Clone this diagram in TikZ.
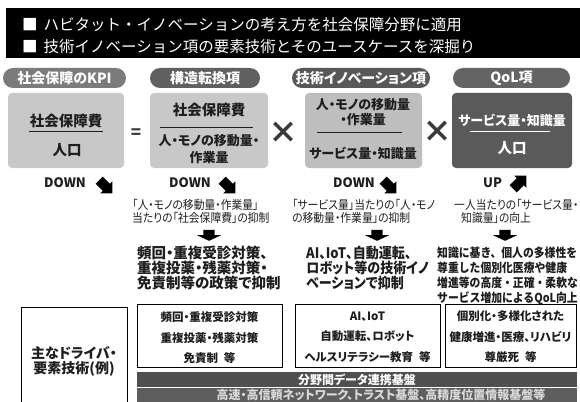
\documentclass[tikz,border=0pt]{standalone}
\usepackage{fontspec}
\setmainfont{Noto Sans CJK JP}[CharacterWidth=AlternateProportional]
\newfontfamily\hdrfont{Noto Sans CJK JP}
\newfontfamily\condfont{Noto Sans CJK JP}[FakeStretch=0.88]
\newfontfamily\palcond{Noto Sans CJK JP}[CharacterWidth=AlternateProportional, FakeStretch=0.9]
\usetikzlibrary{shapes.arrows}
\definecolor{boxA}{HTML}{C8C8C8}
\definecolor{boxC}{HTML}{BEBEBE}
\definecolor{boxD}{HTML}{5A5A5A}
\definecolor{pillA}{HTML}{7B7B7B}
\definecolor{pillB}{HTML}{606060}
\definecolor{pillC}{HTML}{585858}
\definecolor{pillD}{HTML}{646464}
\definecolor{bandA}{HTML}{505050}
\definecolor{bandB}{HTML}{5E5E5E}
\definecolor{txt}{HTML}{1E1E1E}
\definecolor{opgray}{HTML}{3A3A3A}
\begin{document}
\begin{tikzpicture}[x=1pt,y=-1pt,
  hdrtxt/.style={inner sep=0, text=white, font=\hdrfont\fontsize{15.5}{17}\selectfont},
  pill/.style={rounded corners=10pt, text=white, inner sep=0, minimum height=20pt,
    font=\fontsize{14}{16}\selectfont\bfseries},
  fbox/.style={rounded corners=4pt, inner sep=0, minimum height=75pt},
  t/.style={inner sep=0, text=txt},
  big/.style={t, font=\fontsize{14.5}{16}\selectfont\bfseries},
  mid/.style={t, font=\fontsize{13}{15}\selectfont\bfseries},
  updown/.style={t, font=\fontsize{13}{15}\selectfont\bfseries},
  icon/.style={single arrow, fill=black, draw=none, inner xsep=0pt, inner ysep=4.8pt,
    single arrow head extend=3.4pt, minimum height=18.5pt},
  blockarrow/.style={single arrow, fill=black, draw=none, inner xsep=0pt, inner ysep=5.5pt,
    single arrow head extend=6.5pt, single arrow tip angle=130, minimum height=11pt, rotate=-90},
  desc/.style={t, anchor=west, align=left, font=\palcond\fontsize{12}{13}\selectfont},
  bdesc/.style={t, anchor=west, align=left, font=\fontsize{14.5}{15}\selectfont\bfseries},
  bdescc/.style={t, anchor=west, align=left, font=\palcond\fontsize{14.5}{15}\selectfont\bfseries},
  cdesc/.style={t, anchor=west, align=left, font=\condfont\fontsize{12.3}{15.3}\selectfont\bfseries},
  lowbox/.style={draw=black, line width=0.9pt, fill=white, anchor=north west, inner sep=0, minimum height=63pt},
  lowtxt/.style={t, align=center, font=\fontsize{11.5}{20.5}\selectfont\bfseries},
  op/.style={inner sep=0, text=opgray}
]
\useasboundingbox (0,0) rectangle (580,401);
\clip (0,0) rectangle (580,401);
\fill[white] (0,0) rectangle (580,401);

% header
\node[fill=black, inner sep=0, minimum width=576pt, minimum height=50pt, anchor=north west] (hdr) at (6,7.5) {};
\node[hdrtxt, anchor=west] (h1) at (22,24.5) {■\hspace{6pt}ハビタット・イノベーションの考え方を社会保障分野に適用};
\node[hdrtxt, anchor=west] (h2) at (22,46.5) {■\hspace{6pt}技術イノベーション項の要素技術とそのユースケースを深掘り};

% pills
\node[pill, fill=pillA, minimum width=123pt] (p1) at (64.5,78) {社会保障のKPI};
\node[pill, fill=pillB, minimum width=110pt] (p2) at (205,78) {構造転換項};
\node[pill, fill=pillC, minimum width=138pt] (p3) at (361,78) {技術イノベーション項};
\node[pill, fill=pillD, minimum width=117pt] (p4) at (511.5,78) {QoL項};

% boxes
\node[fbox, fill=boxA, minimum width=116pt] (b1) at (66,130.5) {};
\node[fbox, fill=boxA, minimum width=118pt] (b2) at (209,130.5) {};
\node[fbox, fill=boxC, minimum width=117pt] (b3) at (363.5,130.5) {};
\node[fbox, fill=boxD, minimum width=120pt] (b4) at (512,130.5) {};

% box 1
\node[big] (b1n) at (66,121) {社会保障費};
\draw[line width=0.8pt, txt] (29,131) -- (103,131);
\node[big] (b1d) at (67,150) {人口};
% box 2
\node[big] (b2n) at (209,110) {社会保障費};
\draw[line width=0.8pt, txt] (160,127) -- (253,127);
\node[mid] (b2d1) at (209,141) {人・モノの移動量・};
\node[mid] (b2d2) at (209,158) {作業量};
% box 3
\node[mid] (b3n1) at (363,105) {人・モノの移動量};
\node[mid] (b3n2) at (363,120) {・作業量};
\draw[line width=0.8pt, txt] (317,132) -- (402,132);
\node[mid] (b3d) at (363,153) {サービス量・知識量};
% box 4
\node[mid, text=white] (b4n) at (512,120) {サービス量・知識量};
\draw[line width=0.8pt, white] (470,131) -- (550,131);
\node[big, text=white] (b4d) at (512,148) {人口};

% operators
\node[op, font=\fontsize{17}{17}\selectfont\bfseries] (eq) at (136,134) {=};
\node[op, font=\fontsize{30}{30}\selectfont\bfseries] (x1) at (283,133) {×};
\node[op, font=\fontsize{30}{30}\selectfont\bfseries] (x2) at (437,132) {×};

% DOWN / UP
\node[updown] (dn1) at (65,183) {DOWN};
\node[icon, rotate=-45] (ic1) at (104,185) {};
\node[updown] (dn2) at (190,183) {DOWN};
\node[icon, rotate=-45] (ic2) at (227,185) {};
\node[updown] (dn3) at (354,183) {DOWN};
\node[icon, rotate=-45] (ic3) at (388,185) {};
\node[updown] (up4) at (492.5,183) {UP};
\node[icon, rotate=45] (ic4) at (518,184) {};

% descriptions
\node[desc] (ds2) at (132,211.5) {「人・モノの移動量・作業量」\\当たりの「社会保障費」の抑制};
\node[desc] (ds3) at (292,211.5) {「サービス量」当たりの「人・モノ\\の移動量・作業量」の抑制};
\node[desc] (ds4) at (454,211.5) {一人当たりの「サービス量・\\\hspace{7pt}知識量」の向上};

\node[blockarrow] (ba2) at (209,234) {};
\node[blockarrow] (ba3) at (377,234) {};
\node[blockarrow] (ba4) at (505,234) {};

\node[bdesc] (bd2) at (137,268) {頻回・重複受診対策、\\重複投薬・残薬対策・\\免責制等の政策で抑制};
\node[bdescc] (bd3) at (306,268) {AI、IoT、自動運転、\\ロボット等の技術イノ\\ベーションで抑制};
\node[cdesc] (bd4) at (437,276) {知識に基き、個人の多様性を\\尊重した個別化医療や健康\\増進等の高度・正確・柔軟な\\サービス増加によるQoL向上};

% lower boxes
\node[lowbox, minimum width=106pt, minimum height=110pt] (lb0) at (21,307) {};
\node[t, align=center, font=\fontsize{14}{15}\selectfont\bfseries] (lb0t) at (74,361) {主なドライバ・\\要素技術(例)};
\node[lowbox, minimum width=145pt] (lbA) at (137,304) {};
\node[lowbox, minimum width=145pt] (lbB) at (295,304) {};
\node[lowbox, minimum width=131pt] (lbC) at (445,304) {};
\node[lowtxt] (lbAt) at (209.5,338) {頻回・重複受診対策\\重複投薬・残薬対策\\免責制\hspace{6pt}等};
\node[lowtxt] (lbBt) at (367.5,337) {AI、IoT\\自動運転、ロボット\\ヘルスリテラシー教育\hspace{6pt}等};
\node[lowtxt] (lbCt) at (510.5,337) {個別化・多様化された\\健康増進・医療、リハビリ\\尊厳死\hspace{6pt}等};

% bands
\node[fill=bandA, anchor=north west, inner sep=0, minimum width=440pt, minimum height=15pt] (band1) at (137,372) {};
\node[fill=bandB, anchor=north west, inner sep=0, minimum width=440pt, minimum height=20pt] (band2) at (137,388) {};
\node[inner sep=0, text=white, font=\fontsize{12}{14}\selectfont\bfseries] (band1t) at (357,380) {分野間データ連携基盤};
\node[inner sep=0, text=white!85!black, font=\fontsize{12}{14}\selectfont\bfseries] (band2t) at (381,395) {高速・高信頼ネットワーク、トラスト基盤、高精度位置情報基盤等};
\end{tikzpicture}
\end{document}
